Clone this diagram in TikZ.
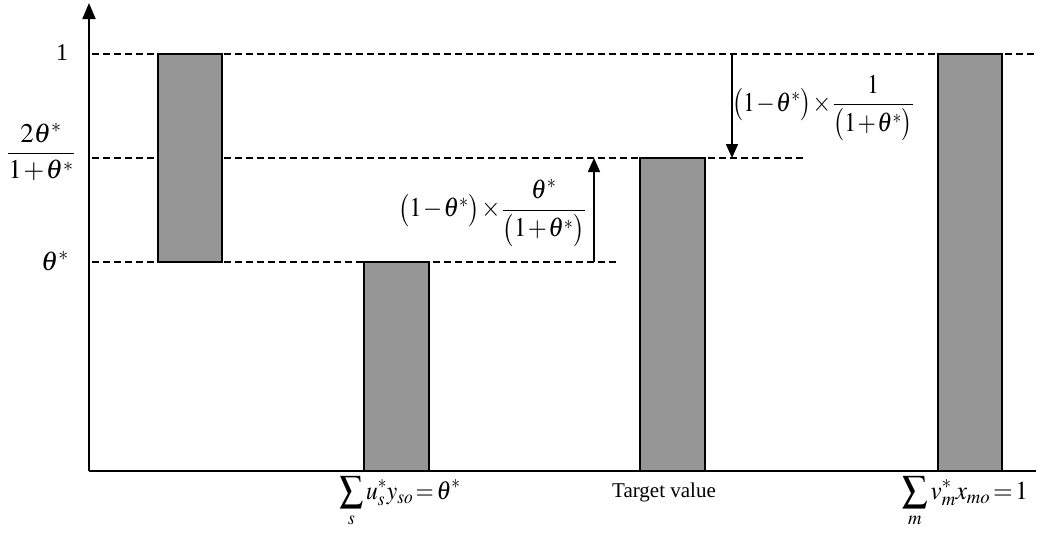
\documentclass[tikz,border=0pt]{standalone}
\usepackage{amsmath}
\usepackage{graphicx}
\usepackage{mathptmx}
\usepackage[no-math]{fontspec}
\setmainfont{Liberation Serif}
\usetikzlibrary{arrows.meta}
\definecolor{barfill}{RGB}{150,150,150}
\newcommand{\tightmath}{\medmuskip=1mu plus 1mu\thickmuskip=2mu plus 1mu}
\newcommand{\hsq}[2]{\scalebox{#1}[1]{#2}}
\begin{document}
\begin{tikzpicture}[x=1pt,y=-1pt,
  bar/.style={draw=black, line width=1.3pt, fill=barfill},
  guide/.style={line width=1.2pt, dash pattern=on 7pt off 4pt},
  axis/.style={line width=1.8pt, -{Triangle[length=16pt,width=13pt]}},
  meas/.style={line width=1.6pt, -{Triangle[length=14pt,width=12pt]}},
  mlab/.style={font=\fontsize{27}{30}\selectfont\tightmath, inner sep=0pt},
  blab/.style={font=\fontsize{26}{30}\selectfont\tightmath, inner sep=0pt},
  tlab/.style={font=\fontsize{21}{24}\selectfont, inner sep=0pt}]
\useasboundingbox (0,0) rectangle (1049,533);
% axes
\coordinate (O) at (89,471);
\coordinate (ytop) at (89,3);
\coordinate (xend) at (1036,471);
\draw[axis] (O) -- (ytop);
\draw[line width=1.8pt] (O) -- (xend);
% guide lines
\coordinate (g1a) at (92,54);  \coordinate (g1b) at (1034,54);
\coordinate (g2a) at (92,158); \coordinate (g2b) at (805,158);
\coordinate (g3a) at (92,262); \coordinate (g3b) at (618,262);
\draw[guide] (g1a) -- (g1b);
\draw[guide] (g2a) -- (g2b);
\draw[guide] (g3a) -- (g3b);
% bars
\draw[bar] (158,54) rectangle (222,262);
\draw[bar] (364,262) rectangle (429,471);
\draw[bar] (640,158) rectangle (705,471);
\draw[bar] (938,54) rectangle (1002,471);
% measure arrows
\coordinate (ua) at (594,262); \coordinate (ub) at (594,158);
\coordinate (da) at (732,54);  \coordinate (db) at (732,158);
\draw[meas] (ua) -- (ub);
\draw[meas] (da) -- (db);
% y labels
\node[font=\fontsize{24}{28}\selectfont, inner sep=0pt] (l1) at (62,53) {1};
\node[mlab] (l2) at (41,152) {$\dfrac{2\theta^{*}}{1+\theta^{*}}$};
\node[mlab] (l3) at (55,261) {$\theta^{*}$};
% measure labels
\node[mlab] (m1) at (492,213) {\hsq{0.91}{$\bigl(1-\theta^{*}\bigr)\times\dfrac{\theta^{*}}{\bigl(1+\theta^{*}\bigr)}$}};
\node[mlab] (m2) at (823,108) {\hsq{0.88}{$\bigl(1-\theta^{*}\bigr)\times\dfrac{1}{\bigl(1+\theta^{*}\bigr)}$}};
% x labels
\node[blab] (x1) at (400,502) {\hsq{0.9}{$\displaystyle\sum_{s} u_{s}^{*}y_{so}=\theta^{*}$}};
\node[tlab] (x2) at (664,492) {Target value};
\node[blab] (x3) at (965,502) {\hsq{0.97}{$\displaystyle\sum_{m} v_{m}^{*}x_{mo}=1$}};
\end{tikzpicture}
\end{document}
